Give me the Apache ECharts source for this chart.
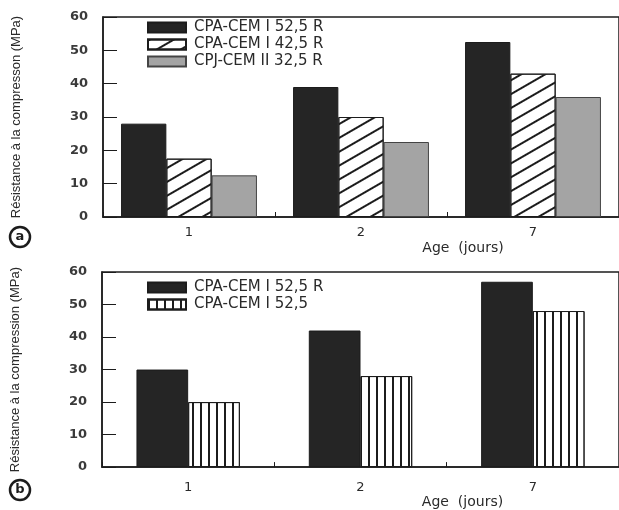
<!DOCTYPE html>
<html>
<head>
<meta charset="utf-8">
<style>
  html, body { margin: 0; padding: 0; background: #fff; }
  #main { width: 619px; height: 510px; }
</style>
</head>
<body>
<div id="main"></div>
<script src="https://cdn.jsdelivr.net/npm/echarts@6/dist/echarts.min.js"></script>
<script>
// ages (jours)
var ages = ['1', '2', '7'];
var yTicks = [0, 10, 20, 30, 40, 50, 60];

// (a) three cements
var namesA = ['CPA-CEM I 52,5 R', 'CPA-CEM I 42,5 R', 'CPJ-CEM II 32,5 R'];
var cem52R_a = [28, 39, 52.5];
var cem42R_a = [17.5, 30, 43];
var cem32R_a = [12.5, 22.5, 36];

// (b) two cements
var namesB = ['CPA-CEM I 52,5 R', 'CPA-CEM I 52,5'];
var cem52R_b = [30, 42, 57];
var cem52_b = [20, 28, 48];

var ink = '#1c1c1c';
var txt = '#2a2a2a';

var darkStyle = { color: '#252525', borderColor: ink, borderWidth: 1 };
var hatchStyle = {
    color: '#fff', borderColor: ink, borderWidth: 1,
    decal: { symbol: 'rect', symbolSize: 1, color: ink, dashArrayX: [1, 0], dashArrayY: [1.5, 9.5], rotation: -Math.PI / 6 }
};
var greyStyle = { color: '#a4a4a4', borderColor: '#444', borderWidth: 1 };
var stripeStyle = {
    color: '#fff', borderColor: ink, borderWidth: 1,
    decal: { symbol: 'rect', symbolSize: 1, color: ink, dashArrayX: [1.8, 5.7], dashArrayY: [1, 0], rotation: 0 }
};

function yAxis(idx, title) {
    return {
        type: 'value', gridIndex: idx, min: 0, max: 60, interval: 10,
        name: title, nameLocation: 'middle', nameGap: 80, nameRotate: 90,
        nameTextStyle: { fontFamily: 'Liberation Sans', fontSize: 13, color: txt },
        axisLine: { show: true, lineStyle: { color: ink, width: 1.5 } },
        axisTick: { show: true, inside: true, length: 14, lineStyle: { color: ink } },
        splitLine: { show: false },
        axisLabel: {
            margin: 15, fontFamily: 'DejaVu Sans', fontSize: 13, fontWeight: 'bold', color: '#3a3a3a',
            formatter: function (v) { return yTicks.indexOf(v) >= 0 ? String(v) : ''; }
        }
    };
}

function xAxis(idx, labelMargin, nameGap) {
    return {
        type: 'category', gridIndex: idx, data: ages,
        name: 'Age  (jours)', nameLocation: 'middle', nameGap: nameGap,
        nameTextStyle: { fontFamily: 'DejaVu Sans', fontSize: 14, color: txt, padding: [0, 0, 0, 204] },
        axisLine: { show: true, lineStyle: { color: ink, width: 1.5 } },
        axisTick: { show: true, inside: true, length: 5, lineStyle: { color: ink } },
        axisLabel: { margin: labelMargin, fontFamily: 'DejaVu Sans', fontSize: 13, color: txt }
    };
}

function legend(names, top) {
    return {
        data: names, icon: 'rect',
        left: 147, top: top, orient: 'vertical', padding: 0, itemGap: 2,
        itemWidth: 38, itemHeight: 10,
        textStyle: { fontFamily: 'DejaVu Sans', fontSize: 15, color: txt, padding: [0, 0, 0, 3] }
    };
}

var chart = echarts.init(document.getElementById('main'));
var option = {
    backgroundColor: '#fff',
    animation: false,
    grid: [
        { left: 103, top: 17, width: 524, height: 200, show: true, borderColor: ink, borderWidth: 1.5, backgroundColor: 'transparent' },
        { left: 102, top: 272, width: 524, height: 200, show: true, borderColor: ink, borderWidth: 1.5, backgroundColor: 'transparent' }
    ],
    legend: [
        legend(namesA, 20),
        legend([namesB[0] + ' ', namesB[1]], 280)
    ],
    xAxis: [xAxis(0, 9, 24), xAxis(1, 14, 26)],
    yAxis: [yAxis(0, 'Résistance à la compresson (MPa)'), yAxis(1, 'Résistance à la compression (MPa)')],
    series: [
        { name: namesA[0], type: 'bar', xAxisIndex: 0, yAxisIndex: 0, data: cem52R_a, itemStyle: darkStyle, barGap: '0%', barCategoryGap: '21%' },
        { name: namesA[1], type: 'bar', xAxisIndex: 0, yAxisIndex: 0, data: cem42R_a, itemStyle: hatchStyle },
        { name: namesA[2], type: 'bar', xAxisIndex: 0, yAxisIndex: 0, data: cem32R_a, itemStyle: greyStyle },
        { name: namesB[0] + ' ', type: 'bar', xAxisIndex: 1, yAxisIndex: 1, data: cem52R_b, itemStyle: darkStyle, barGap: '0%', barCategoryGap: '40%' },
        { name: namesB[1], type: 'bar', xAxisIndex: 1, yAxisIndex: 1, data: cem52_b, itemStyle: stripeStyle }
    ],
    graphic: [
        { type: 'circle', shape: { cx: 20, cy: 237, r: 10 }, style: { fill: '#fff', stroke: ink, lineWidth: 2.5 } },
        { type: 'text', x: 20, y: 237, style: { text: 'a', fontFamily: 'DejaVu Sans', fontWeight: 'bold', fontSize: 13, fill: ink, align: 'center', verticalAlign: 'middle' } },
        { type: 'circle', shape: { cx: 20, cy: 490, r: 10 }, style: { fill: '#fff', stroke: ink, lineWidth: 2.5 } },
        { type: 'text', x: 20, y: 490, style: { text: 'b', fontFamily: 'DejaVu Sans', fontWeight: 'bold', fontSize: 13, fill: ink, align: 'center', verticalAlign: 'middle' } }
    ]
};
chart.setOption(option);
</script>
</body>
</html>
